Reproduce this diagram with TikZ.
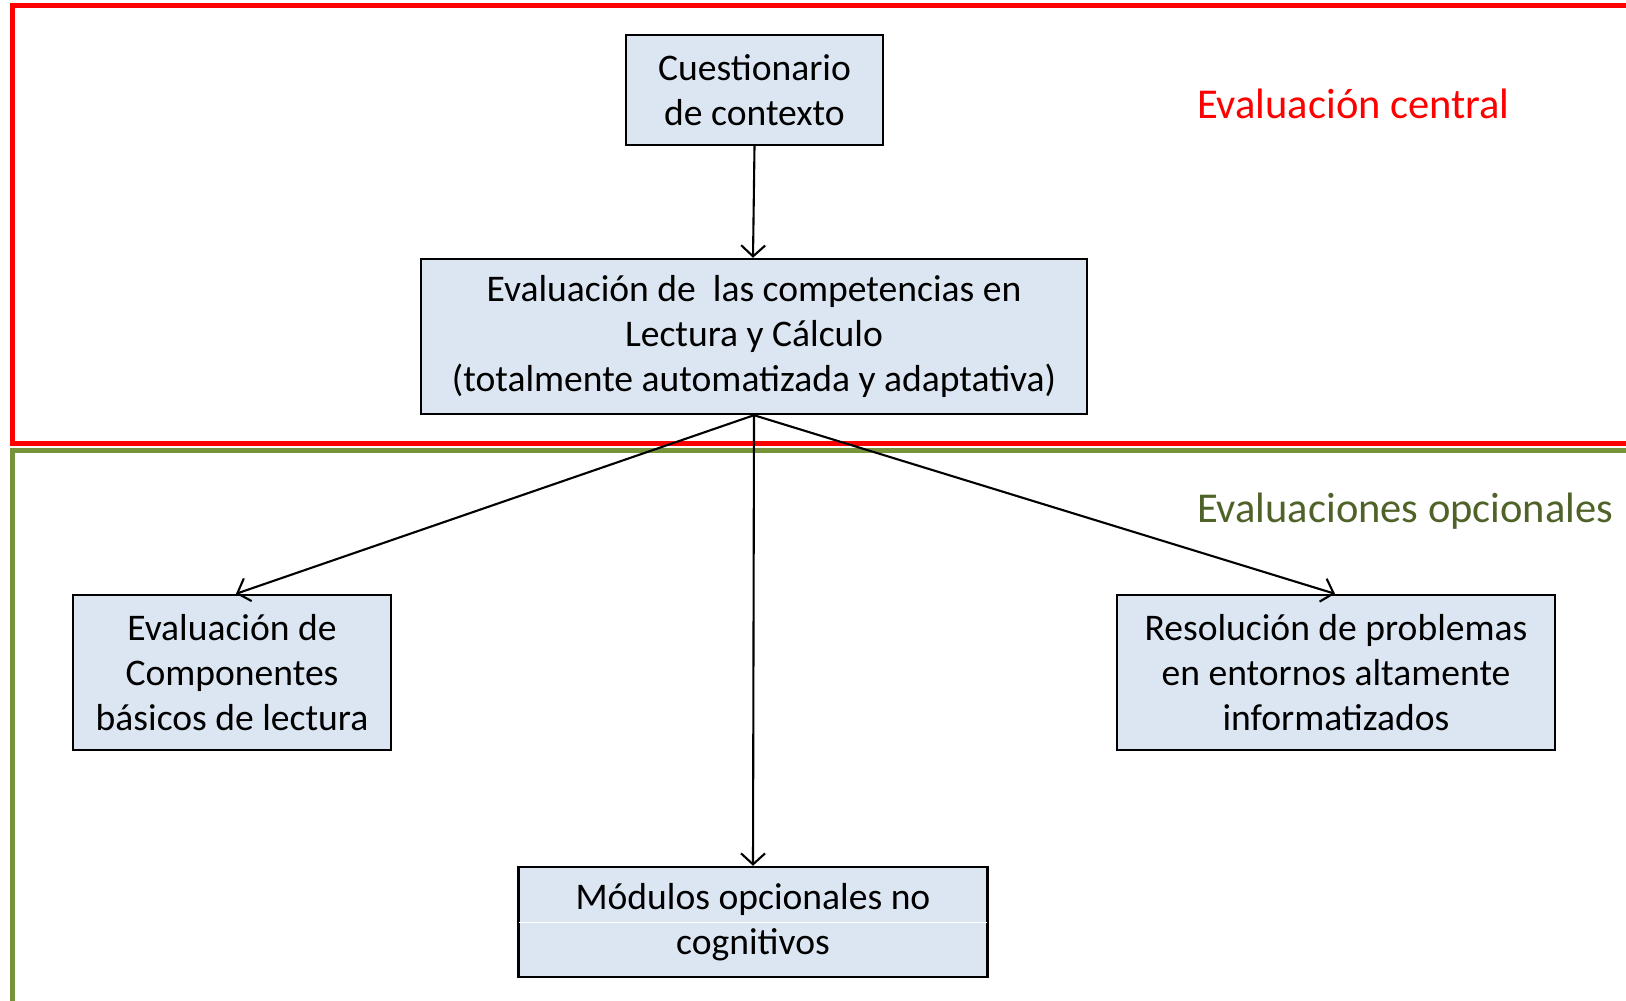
\documentclass[tikz,border=0pt]{standalone}
\usepackage{fontspec}
\setmainfont{Carlito}
\usetikzlibrary{arrows.meta}
\definecolor{boxfill}{HTML}{DCE6F2}
\definecolor{frgreen}{HTML}{77933C}
\definecolor{txgreen}{HTML}{4F6228}
\tikzset{
  box/.style={draw=black, line width=2.4pt, fill=boxfill, align=center, inner sep=0pt,
    font=\fontsize{37.6}{44.6}\selectfont},
  conn/.style={draw=black, line width=2.1pt, -{Straight Barb[length=11pt,width=24pt,line width=2.1pt]}},
  lab/.style={font=\fontsize{42.5}{50}\selectfont, anchor=west, inner sep=0pt}
}
\begin{document}
\begin{tikzpicture}[x=1pt,y=-1pt]
\useasboundingbox (0,0) rectangle (1626,1001);
\clip (0,0) rectangle (1626,1001);
\fill[white] (0,0) rectangle (1626,1001);
% frames
\draw[red, line width=4.8pt] (12.4,5.2) rectangle (1660,443.8);
\draw[frgreen, line width=4.8pt] (12.4,450.5) rectangle (1660,1040);
% labels
\node[lab, text=red] (lc) at (1197,104) {Evaluación central};
\node[lab, text=txgreen] (lo) at (1197,511) {Evaluaciones opcionales};
% boxes
\node[box, minimum width=257pt, minimum height=110pt] (b1) at (754.5,90) {Cuestionario\\de contexto};
\node[box, minimum width=666pt, minimum height=155pt] (b2) at (754,336.5) {Evaluación de \ las competencias en\\Lectura y Cálculo\\(totalmente automatizada y adaptativa)};
\node[box, minimum width=318pt, minimum height=155pt] (b3) at (232,672.5) {Evaluación de\\Componentes\\básicos de lectura};
\node[box, minimum width=438pt, minimum height=155pt] (b4) at (1336,672.5) {Resolución de problemas\\en entornos altamente\\informatizados};
\node[box, minimum width=469pt, minimum height=110pt] (b5) at (753,922) {Módulos opcionales no\\cognitivos};
\draw[white, line width=1pt] ([xshift=1.5pt]b5.west) -- ([xshift=-1.5pt]b5.east);
% connectors
\draw[conn] (b1.south) -- ([xshift=-1pt]b2.north);
\draw[conn] (b2.south) -- ([xshift=4pt]b3.north);
\draw[conn] (b2.south) -- ([xshift=-1pt]b4.north);
\draw[conn] (b2.south) -- (b5.north);
\end{tikzpicture}
\end{document}
